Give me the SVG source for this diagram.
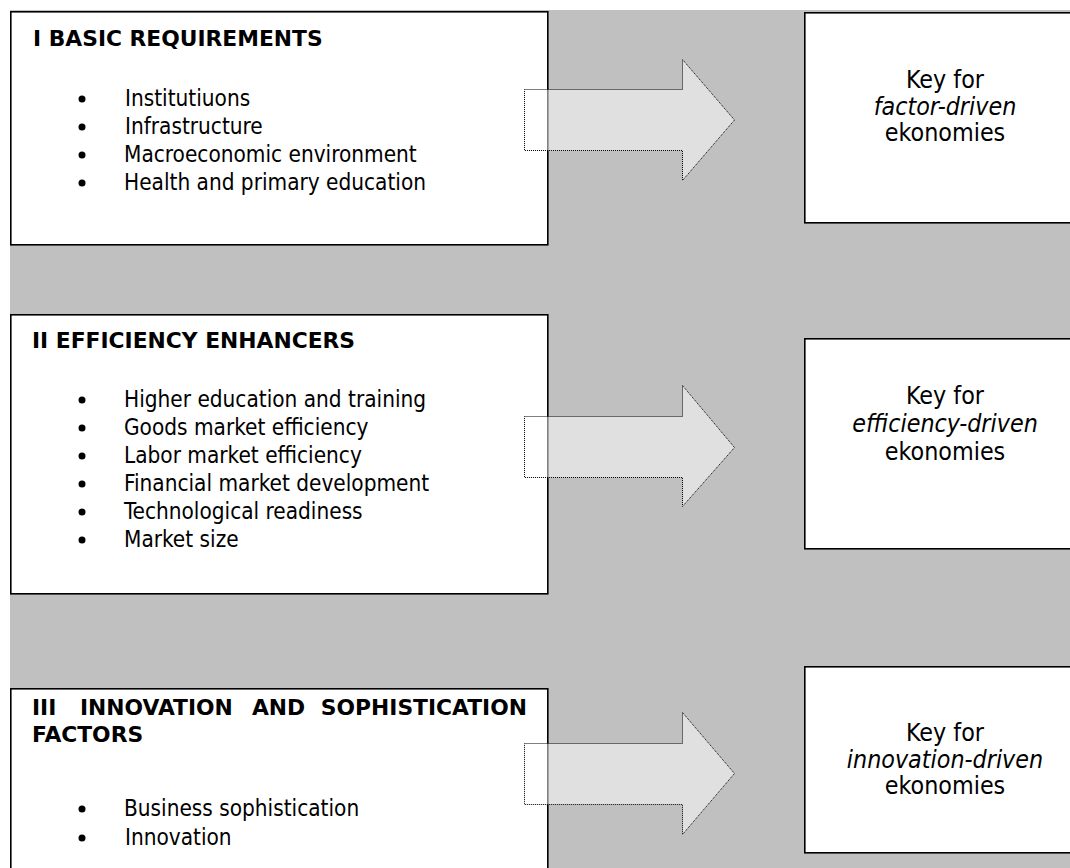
<svg xmlns="http://www.w3.org/2000/svg" width="1070" height="868" viewBox="0 0 1070 868">
  <style>
    .panel { fill: #ffffff; stroke: #000000; stroke-width: 1.6; }
    .head { font-family: 'DejaVu Sans', sans-serif; font-weight: bold; font-size: 21.8px; fill: #000000; }
    .item { font-family: 'DejaVu Sans Condensed', 'DejaVu Sans', sans-serif; font-size: 22.4px; fill: #000000; }
    .key { font-family: 'DejaVu Sans Condensed', 'DejaVu Sans', sans-serif; font-size: 24.8px; fill: #000000; text-anchor: middle; }
    .em { font-style: italic; }
    .dot { fill: #000000; }
    .arrow { fill: #ffffff; fill-opacity: 0.5; stroke: #000000; stroke-width: 1; stroke-dasharray: 1 1; }
  </style>

  <!-- grey backdrop -->
  <rect x="10" y="10" width="1060" height="858" fill="#c0c0c0"/>

  <!-- pillar I -->
  <g id="basic-requirements">
    <rect class="panel" x="10.8" y="11.8" width="537" height="233"/>
    <text class="head" x="33" y="46">I BASIC REQUIREMENTS</text>
    <circle class="dot" cx="82" cy="99" r="3.5"/>
    <circle class="dot" cx="82" cy="127" r="3.5"/>
    <circle class="dot" cx="82" cy="155" r="3.5"/>
    <circle class="dot" cx="82" cy="183" r="3.5"/>
    <text class="item" x="125" y="106">Institutiuons</text>
    <text class="item" x="125" y="134">Infrastructure</text>
    <text class="item" x="124" y="162">Macroeconomic environment</text>
    <text class="item" x="124" y="190">Health and primary education</text>
  </g>

  <!-- pillar II -->
  <g id="efficiency-enhancers">
    <rect class="panel" x="10.8" y="314.8" width="537" height="279"/>
    <text class="head" x="32" y="348">II EFFICIENCY ENHANCERS</text>
    <circle class="dot" cx="82" cy="400" r="3.5"/>
    <circle class="dot" cx="82" cy="428" r="3.5"/>
    <circle class="dot" cx="82" cy="456" r="3.5"/>
    <circle class="dot" cx="82" cy="484" r="3.5"/>
    <circle class="dot" cx="82" cy="512" r="3.5"/>
    <circle class="dot" cx="82" cy="540" r="3.5"/>
    <text class="item" x="124" y="407">Higher education and training</text>
    <text class="item" x="124" y="435">Goods market efficiency</text>
    <text class="item" x="124" y="463">Labor market efficiency</text>
    <text class="item" x="124" y="491">Financial market development</text>
    <text class="item" x="124" y="519">Technological readiness</text>
    <text class="item" x="124" y="547">Market size</text>
  </g>

  <!-- pillar III -->
  <g id="innovation-factors">
    <rect class="panel" x="10.8" y="688.8" width="537" height="200"/>
    <text class="head" y="715"><tspan x="32">III</tspan><tspan x="80">INNOVATION</tspan><tspan x="252">AND</tspan><tspan x="527" text-anchor="end">SOPHISTICATION</tspan></text>
    <text class="head" x="32" y="742">FACTORS</text>
    <circle class="dot" cx="82" cy="809" r="3.5"/>
    <circle class="dot" cx="82" cy="838" r="3.5"/>
    <text class="item" x="124" y="816">Business sophistication</text>
    <text class="item" x="125" y="845">Innovation</text>
  </g>

  <!-- stage boxes -->
  <g id="factor-driven">
    <rect class="panel" x="804.8" y="12.8" width="280" height="210"/>
    <text class="key" x="945" y="88">Key for</text>
    <text class="key em" x="945" y="114.5">factor-driven</text>
    <text class="key" x="945" y="141">ekonomies</text>
  </g>

  <g id="efficiency-driven">
    <rect class="panel" x="804.8" y="338.8" width="280" height="210"/>
    <text class="key" x="945" y="404">Key for</text>
    <text class="key em" x="945" y="432">efficiency-driven</text>
    <text class="key" x="945" y="460">ekonomies</text>
  </g>

  <g id="innovation-driven">
    <rect class="panel" x="804.8" y="666.8" width="280" height="186"/>
    <text class="key" x="945" y="741">Key for</text>
    <text class="key em" x="945" y="767.5">innovation-driven</text>
    <text class="key" x="945" y="794">ekonomies</text>
  </g>

  <!-- block arrows from each pillar to its stage -->
  <g id="connectors">
    <path class="arrow" d="M524.5,89.5 H682.5 V59.5 L734.5,120 L682.5,180.5 V150.5 H524.5 Z"/>
    <path class="arrow" d="M524.5,416.5 H682.5 V385.5 L734.5,447.5 L682.5,506.5 V477.5 H524.5 Z"/>
    <path class="arrow" d="M524.5,743.5 H682.5 V712.5 L734.5,773.5 L682.5,834.5 V804.5 H524.5 Z"/>
  </g>
</svg>
